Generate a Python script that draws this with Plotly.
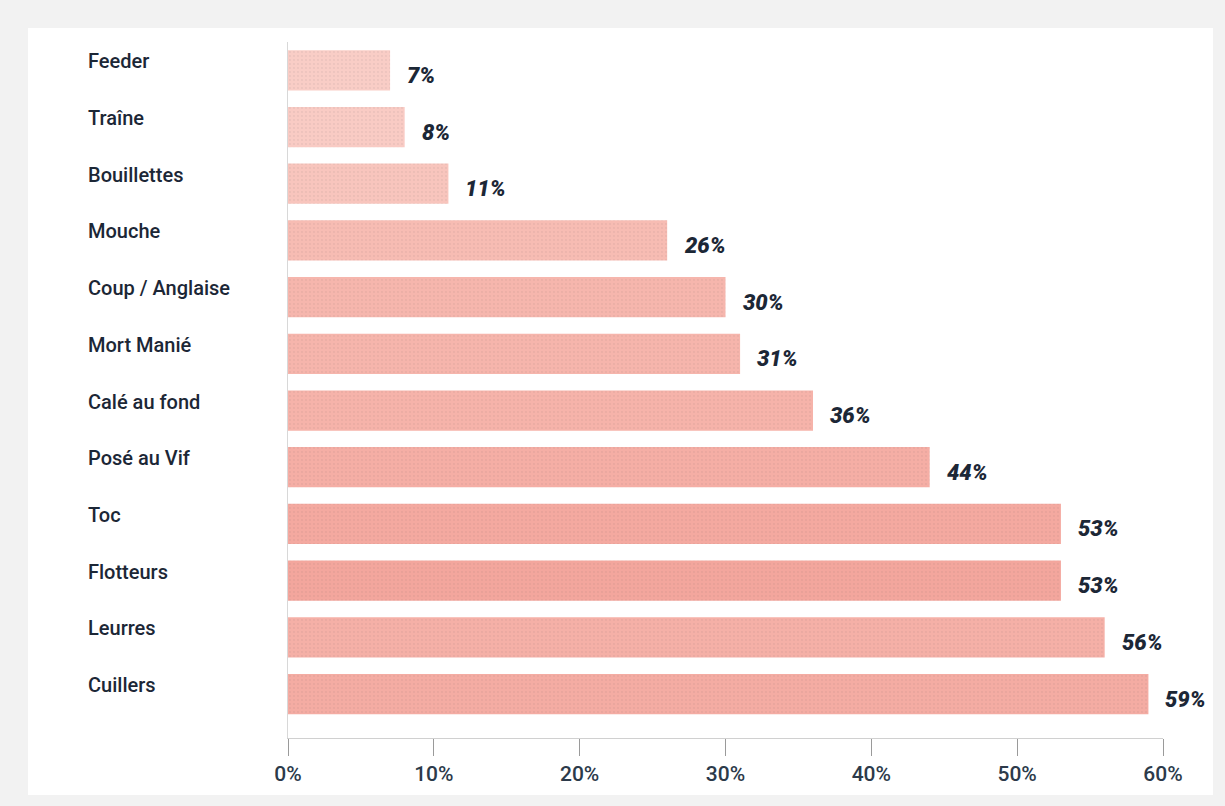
import plotly.graph_objects as go

categories = ["Feeder", "Traîne", "Bouillettes", "Mouche", "Coup / Anglaise", "Mort Manié",
              "Calé au fond", "Posé au Vif", "Toc", "Flotteurs", "Leurres", "Cuillers"]
values = [7, 8, 11, 26, 30, 31, 36, 44, 53, 53, 56, 59]
value_labels = ["7%", "8%", "11%", "26%", "30%", "31%", "36%", "44%", "53%", "53%", "56%", "59%"]
x_ticks = [0, 10, 20, 30, 40, 50, 60]
x_tick_labels = ["0%", "10%", "20%", "30%", "40%", "50%", "60%"]

bar_colors = ["#f9cdc6", "#f9cbc4", "#f8c5bd", "#f7bcb3", "#f6b6ad", "#f6b5ac",
              "#f6b3aa", "#f5aea5", "#f4a9a0", "#f3a69d", "#f5b0a7", "#f4aca3"]

FONT = "Roboto, sans-serif"
TEXT = "#1c2736"

fig = go.Figure()
fig.add_trace(go.Bar(
    y=categories, x=values, orientation="h",
    marker=dict(color=bar_colors, line=dict(width=0),
                pattern=dict(shape=".", fgcolor="#e0605a", fgopacity=0.16, size=4, solidity=0.1)),
    width=0.71, hoverinfo="skip",
))

annotations = []
for c, v, t in zip(categories, values, value_labels):
    annotations.append(dict(x=v, y=c, xref="x", yref="y", text=f"<i>{t}</i>",
                            showarrow=False, xanchor="left", xshift=15, yshift=-5,
                            font=dict(family=FONT, size=22, color=TEXT, weight=900)))
    annotations.append(dict(x=0, y=c, xref="paper", yref="y", text=c, showarrow=False,
                            xanchor="left", xshift=-202, yshift=9,
                            font=dict(family=FONT, size=20, color=TEXT, weight=500)))

fig.update_layout(
    width=1225, height=806,
    margin=dict(l=288, r=62, t=42, b=68),
    paper_bgcolor="#f2f2f2", plot_bgcolor="rgba(0,0,0,0)",
    showlegend=False, bargap=0.29,
    shapes=[dict(type="rect", xref="paper", yref="paper", layer="below",
                 x0=-260 / 875, x1=1 + 50 / 875, y0=-(795 - 738) / 696, y1=1 + (42 - 28) / 696,
                 fillcolor="white", line=dict(width=0))],
    annotations=annotations,
    xaxis=dict(range=[0, 60], tickvals=x_ticks, ticktext=x_tick_labels,
               showgrid=False, zeroline=False, showline=True, linecolor="#d0d0d0", linewidth=1,
               ticks="outside", ticklen=17, tickcolor="#9a9a9a", tickwidth=1,
               tickfont=dict(family=FONT, size=21, color="#2c3a4a", weight=500)),
    yaxis=dict(range=[11.776, -0.5], showticklabels=False, showgrid=False, zeroline=False,
               showline=True, linecolor="#d8d8d8", linewidth=1, ticks=""),
)

fig.write_html("out.html")
